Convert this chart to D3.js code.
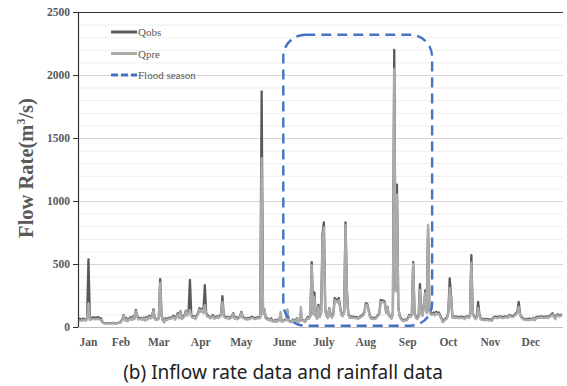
<!DOCTYPE html>
<html>
<head>
<meta charset="utf-8">
<script src="https://cdn.jsdelivr.net/npm/d3@7"></script>
<style>
  html, body { margin: 0; padding: 0; background: #fff; }
  svg { display: block; }
</style>
</head>
<body>
<svg id="chart" width="567" height="386"></svg>
<script>
// daily observed flow (m3/s), day 0 = 1 Jan
const qObs = [
  70, 62, 55, 68, 60, 58, 72, 537, 75, 70,
  74, 76, 72, 75, 78, 73, 70, 45, 32, 30,
  28, 30, 31, 29, 30, 32, 30, 28, 31, 33,
  35, 45, 60, 95, 55, 72, 50, 65, 78, 60,
  85, 70, 135, 90, 65, 70, 72, 60, 75, 55,
  80, 68, 90, 75, 85, 140, 70, 60, 65, 72,
  380, 95, 55, 40, 70, 62, 70, 75, 72, 80,
  90, 65, 85, 110, 75, 125, 70, 80, 95, 130,
  100, 120, 373, 95, 80, 85, 70, 90, 110, 150,
  130, 145, 120, 333, 110, 90, 85, 75, 80, 95,
  72, 80, 85, 78, 90, 100, 245, 95, 80, 75,
  82, 70, 78, 85, 110, 72, 80, 68, 75, 85,
  120, 80, 75, 70, 65, 72, 68, 78, 80, 75,
  70, 72, 78, 75, 80, 1870, 110, 140, 75, 70,
  60, 55, 70, 50, 48, 55, 42, 60, 55, 60,
  45, 50, 55, 60, 130, 50, 45, 40, 60, 55,
  48, 70, 42, 50, 60, 55, 52, 45, 60, 80,
  70, 90, 515, 110, 275, 90, 70, 175, 85, 120,
  735, 830, 140, 90, 75, 150, 95, 80, 110, 230,
  220, 210, 230, 160, 100, 90, 130, 830, 295, 110,
  80, 85, 78, 82, 75, 80, 70, 75, 85, 90,
  100, 120, 190, 185, 140, 90, 70, 75, 68, 72,
  80, 95, 110, 215, 205, 210, 200, 120, 160, 95,
  85, 70, 120, 2200, 300, 1130, 160, 90, 70, 55,
  50, 60, 55, 70, 95, 85, 100, 515, 110, 80,
  70, 85, 340, 110, 95, 190, 290, 120, 780, 130,
  110, 105, 115, 100, 120, 110, 115, 90, 70, 40,
  55, 70, 75, 120, 385, 250, 80, 85, 78, 82,
  80, 75, 82, 78, 80, 70, 82, 85, 78, 90,
  570, 110, 85, 70, 80, 200, 95, 70, 62, 65,
  60, 65, 62, 58, 60, 55, 70, 80, 82, 78,
  80, 85, 82, 78, 80, 85, 82, 80, 95, 90,
  85, 88, 95, 110, 120, 200, 100, 80, 72, 65,
  62, 65, 60, 68, 62, 65, 72, 60, 80, 78,
  82, 80, 85, 78, 82, 80, 85, 78, 90, 95,
  110, 85, 70, 95, 100, 90, 95, 100
];

// daily predicted flow (m3/s)
const qPre = [
  55, 50, 48, 58, 52, 50, 60, 190, 55, 60,
  62, 64, 60, 62, 65, 60, 58, 40, 30, 28,
  27, 28, 29, 27, 28, 30, 28, 27, 29, 30,
  32, 40, 55, 90, 50, 62, 45, 58, 68, 55,
  75, 62, 125, 80, 58, 62, 65, 55, 68, 50,
  72, 60, 80, 68, 75, 130, 62, 55, 58, 65,
  350, 85, 50, 38, 62, 55, 62, 68, 65, 72,
  80, 58, 78, 100, 68, 120, 62, 72, 85, 125,
  90, 110, 135, 85, 72, 78, 62, 80, 100, 140,
  120, 135, 110, 175, 100, 80, 78, 68, 72, 85,
  65, 72, 78, 70, 80, 90, 200, 85, 72, 68,
  75, 62, 70, 78, 105, 65, 72, 60, 68, 78,
  115, 72, 68, 62, 58, 65, 60, 70, 72, 68,
  62, 65, 70, 68, 72, 1340, 100, 135, 68, 62,
  55, 50, 62, 45, 42, 50, 38, 55, 50, 120,
  40, 45, 50, 55, 140, 45, 40, 38, 55, 50,
  45, 65, 40, 45, 160, 50, 48, 40, 55, 72,
  65, 85, 490, 100, 240, 85, 65, 160, 78, 110,
  690, 790, 130, 85, 70, 145, 88, 72, 100, 215,
  205, 195, 215, 150, 92, 85, 120, 810, 280, 100,
  72, 78, 70, 75, 68, 72, 65, 68, 78, 82,
  92, 110, 180, 175, 130, 82, 65, 68, 62, 65,
  72, 88, 100, 200, 195, 200, 190, 110, 160, 88,
  78, 65, 110, 2050, 280, 1050, 150, 82, 62, 50,
  45, 55, 50, 62, 88, 78, 92, 500, 100, 72,
  62, 78, 295, 100, 88, 180, 270, 110, 810, 120,
  100, 95, 105, 92, 110, 100, 105, 82, 62, 38,
  50, 62, 68, 110, 310, 230, 72, 78, 70, 75,
  72, 68, 75, 70, 72, 62, 75, 78, 70, 82,
  510, 105, 78, 62, 72, 150, 88, 62, 55, 58,
  52, 58, 55, 50, 52, 48, 62, 72, 75, 70,
  72, 78, 75, 70, 72, 78, 75, 72, 90, 82,
  78, 80, 88, 100, 110, 160, 92, 72, 65, 58,
  55, 58, 52, 60, 55, 58, 65, 52, 72, 70,
  75, 72, 78, 70, 75, 72, 78, 70, 82, 88,
  100, 78, 62, 88, 92, 82, 88, 92
];

const monthLabels = ['Jan', 'Feb', 'Mar', 'Apr', 'May', 'June', 'July', 'Aug', 'Sep', 'Oct', 'Nov', 'Dec'];
const monthLabelDays = [7, 31, 59, 90, 120, 152, 181, 212, 243, 273, 304, 334];
const yTicks = [0, 500, 1000, 1500, 2000, 2500];
const legendNames = ['Qobs', 'Qpre', 'Flood season'];
// flood season window (days) and flow range of the dashed box
const floodDays = [151, 261];
const floodFlow = [10, 2320];

const svg = d3.select('#chart');
const margin = { left: 78, right: 4, top: 12, bottom: 59 };
const W = 567, H = 386;

const x = d3.scaleLinear().domain([0, qObs.length - 1]).range([margin.left + 1, W - margin.right - 1]);
const y = d3.scaleLinear().domain([0, 2500]).range([H - margin.bottom, margin.top]);

const grey = '#595959';
const serif = '"Liberation Serif", "Times New Roman", serif';

// gridlines every 100
const grid = svg.append('g');
d3.range(100, 2500, 100).forEach(v => {
  grid.append('line')
    .attr('x1', margin.left).attr('x2', W - margin.right)
    .attr('y1', y(v) + 0.5).attr('y2', y(v) + 0.5)
    .attr('stroke', v % 500 === 0 ? '#d6d6d6' : '#eeeeee')
    .attr('stroke-width', 1);
});
// top border
svg.append('line')
  .attr('x1', margin.left).attr('x2', W - margin.right)
  .attr('y1', y(2500) + 0.5).attr('y2', y(2500) + 0.5)
  .attr('stroke', '#333').attr('stroke-width', 1.2);

// series
const line = d3.line().x((d, i) => x(i)).y(d => y(d));
svg.append('path').datum(qObs)
  .attr('d', line).attr('fill', 'none')
  .attr('stroke', grey).attr('stroke-width', 2.3)
  .attr('stroke-linejoin', 'round');
svg.append('path').datum(qPre)
  .attr('d', line).attr('fill', 'none')
  .attr('stroke', '#ababab').attr('stroke-width', 2.3)
  .attr('stroke-linejoin', 'round');

// y axis
const yAxis = svg.append('g')
  .attr('transform', 'translate(' + margin.left + ',0)')
  .call(d3.axisLeft(y).tickValues(yTicks).tickSize(5).tickPadding(3).tickFormat(d3.format('d')));
yAxis.select('.domain').remove();
yAxis.selectAll('line').attr('stroke', '#333');
yAxis.selectAll('text')
  .attr('font-family', serif).attr('font-weight', 'bold')
  .attr('font-size', 11.5).attr('fill', grey);
svg.append('line')
  .attr('x1', margin.left + 0.5).attr('x2', margin.left + 0.5)
  .attr('y1', y(2500)).attr('y2', y(0) + 1)
  .attr('stroke', '#333').attr('stroke-width', 1.2);
// x axis baseline
svg.append('line')
  .attr('x1', margin.left).attr('x2', W - margin.right)
  .attr('y1', y(0) + 0.5).attr('y2', y(0) + 0.5)
  .attr('stroke', '#bfbfbf');

// month labels
svg.append('g').selectAll('text').data(monthLabels).join('text')
  .attr('x', (d, i) => x(monthLabelDays[i]))
  .attr('y', y(0) + 19)
  .attr('text-anchor', 'middle')
  .attr('font-family', serif).attr('font-weight', 'bold')
  .attr('font-size', 11.5).attr('fill', grey)
  .text(d => d);

// y axis title
const yTitle = svg.append('text')
  .attr('transform', 'translate(33,168) rotate(-90)')
  .attr('text-anchor', 'middle')
  .attr('font-family', serif).attr('font-weight', 'bold')
  .attr('font-size', 20.5).attr('fill', grey);
yTitle.append('tspan').text('Flow Rate(m');
yTitle.append('tspan').attr('font-size', 12).attr('dy', -8).text('3');
yTitle.append('tspan').attr('dy', 8).text('/s)');

// flood season box
svg.append('rect')
  .attr('x', x(floodDays[0])).attr('y', y(floodFlow[1]))
  .attr('width', x(floodDays[1]) - x(floodDays[0]))
  .attr('height', y(floodFlow[0]) - y(floodFlow[1]))
  .attr('rx', 22).attr('ry', 22)
  .attr('fill', 'none').attr('stroke', '#4472c4')
  .attr('stroke-width', 2.4).attr('stroke-dasharray', '10,6');

// legend
const legend = svg.append('g').attr('transform', 'translate(111,32)');
const legendStyle = [
  { color: grey, dash: null },
  { color: '#ababab', dash: null },
  { color: '#4472c4', dash: '7,3' }
];
legendNames.forEach((name, i) => {
  const g = legend.append('g').attr('transform', 'translate(0,' + (i * 21.5) + ')');
  g.append('line').attr('x1', 0).attr('x2', 26).attr('y1', 0).attr('y2', 0)
    .attr('stroke', legendStyle[i].color).attr('stroke-width', 3)
    .attr('stroke-dasharray', legendStyle[i].dash);
  g.append('text').attr('x', 27).attr('y', 4)
    .attr('font-family', serif).attr('font-size', 11).attr('fill', grey)
    .text(name);
});

// caption
svg.append('text')
  .attr('x', 283).attr('y', 379)
  .attr('text-anchor', 'middle')
  .attr('font-family', '"Noto Sans", "Open Sans", sans-serif')
  .attr('font-size', 19).attr('fill', '#222')
  .text('(b) Inflow rate data and rainfall data');
</script>
</body>
</html>
